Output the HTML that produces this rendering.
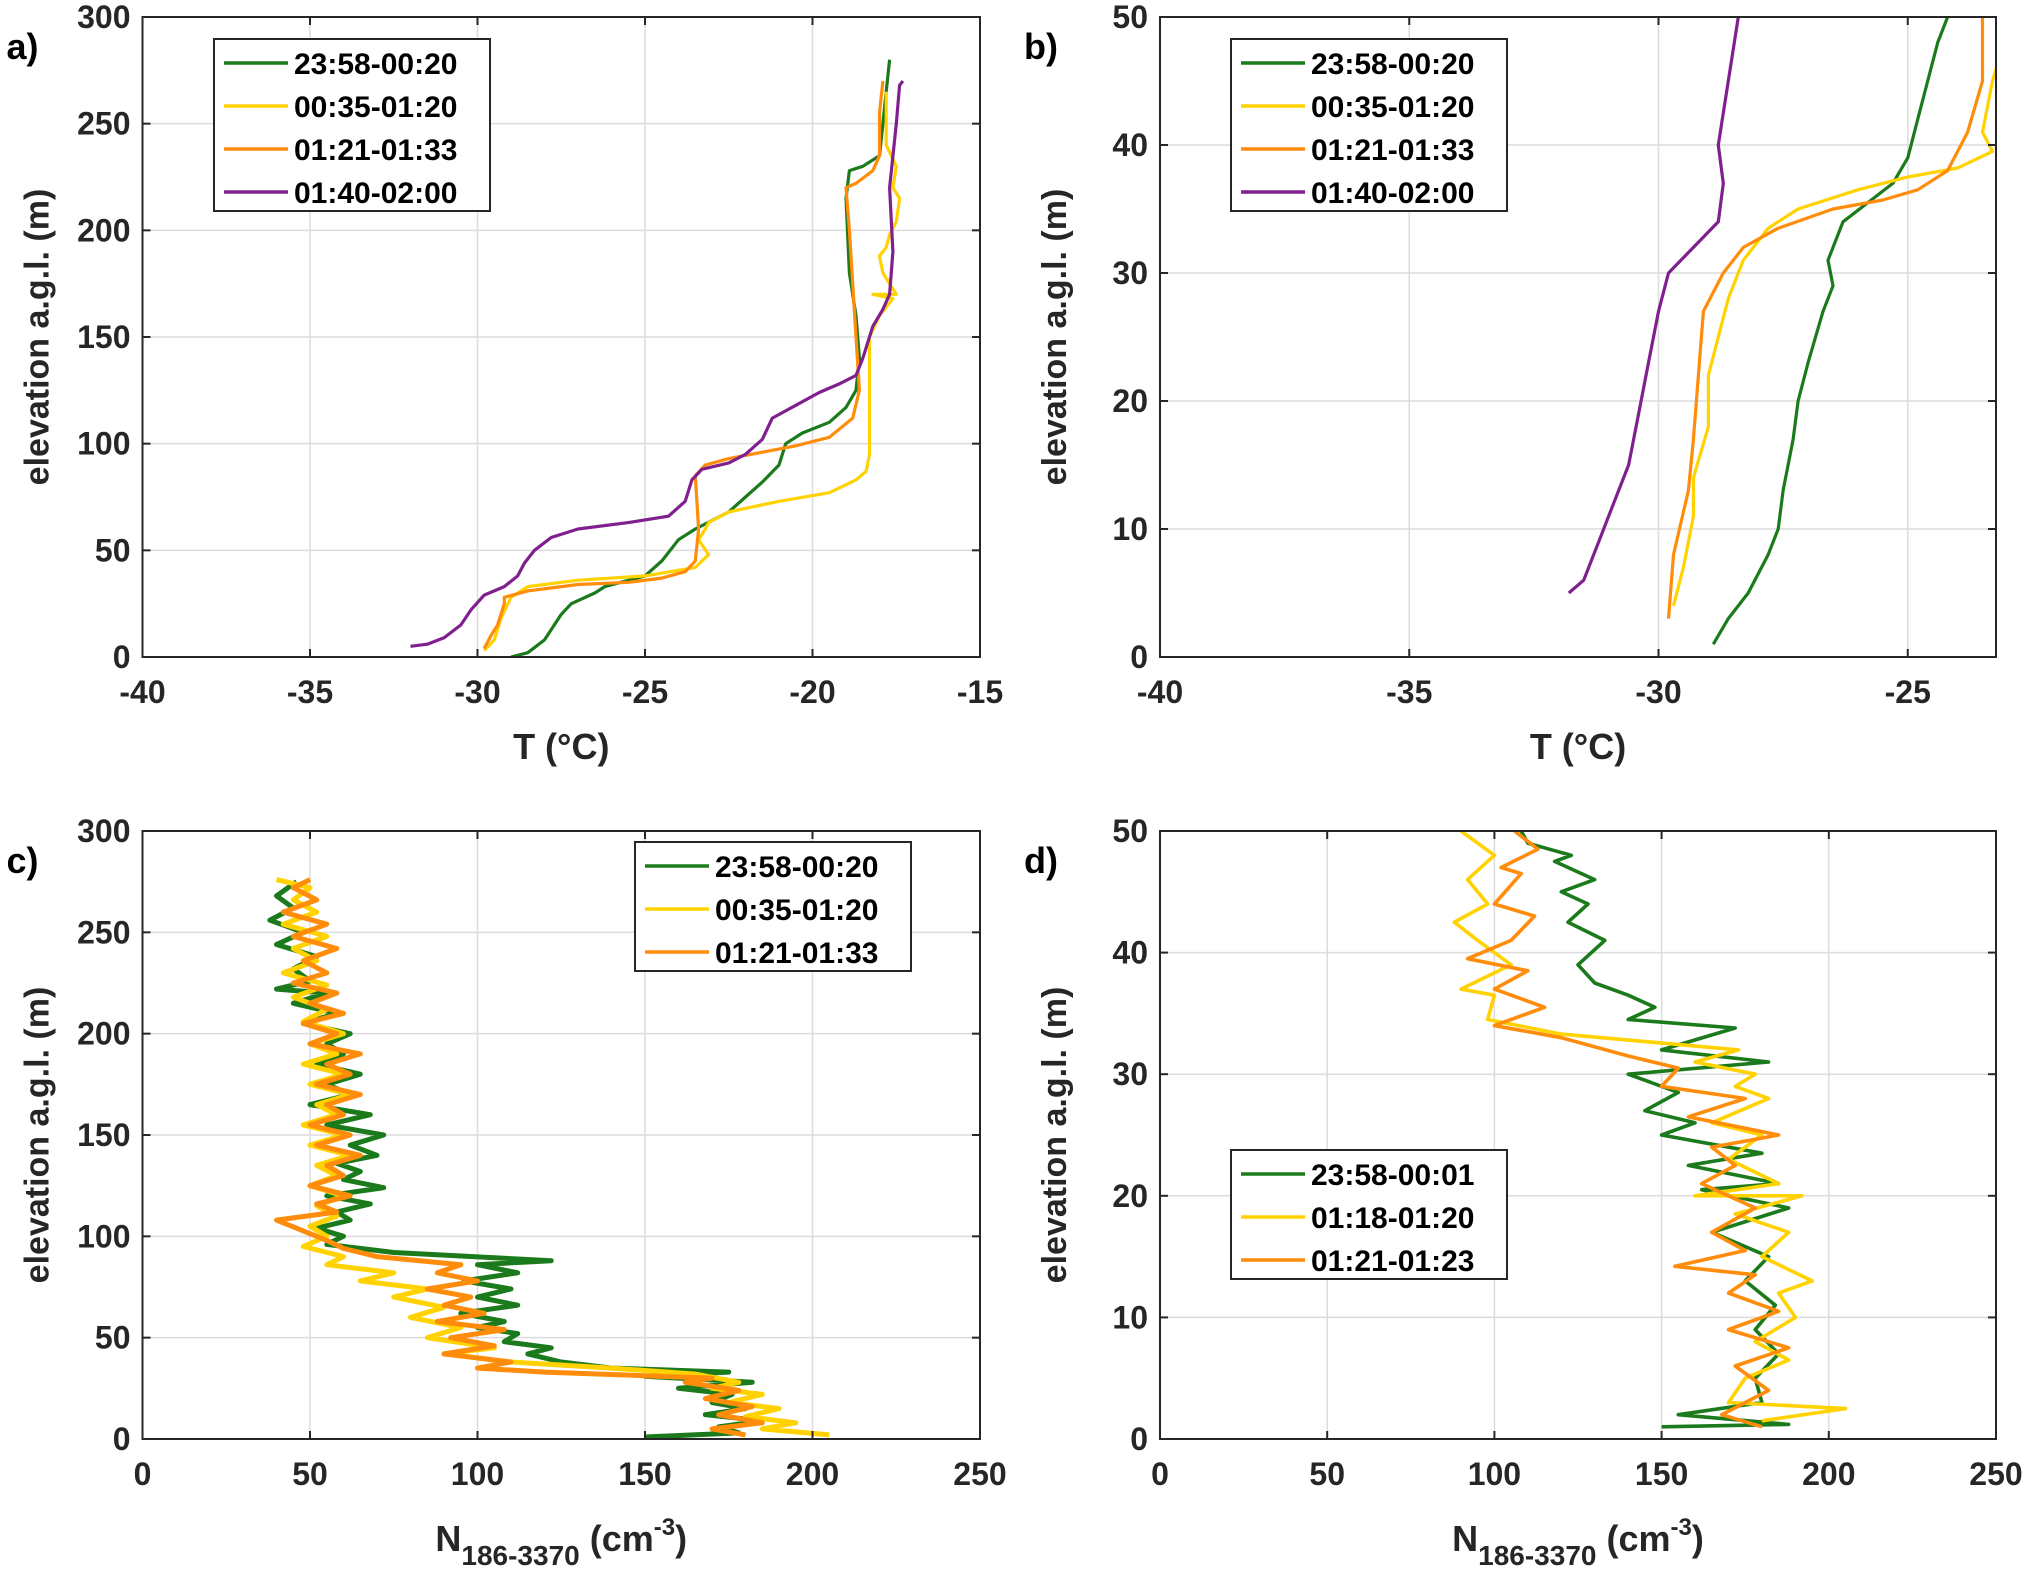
<!DOCTYPE html>
<html><head><meta charset="utf-8"><style>
html,body{margin:0;padding:0;background:#fff;}
svg{display:block;font-family:"Liberation Sans",Arial,sans-serif;font-weight:bold;}
</style></head><body>
<svg id="fig" width="2032" height="1581" viewBox="0 0 2032 1581" xmlns="http://www.w3.org/2000/svg"></svg>
<script>
// ---- data ----
const aGreen=[[-29,0],[-28.5,2],[-28,8],[-27.5,20],[-27.2,25],[-26.5,30],[-26.2,33],[-25,38],[-24.5,45],[-24,55],[-23.5,60],[-23,64],[-22.5,68],[-22,75],[-21.5,82],[-21,90],[-20.8,100],[-20.3,105],[-19.5,110],[-19,117],[-18.7,125],[-18.6,140],[-18.7,160],[-18.9,180],[-19,215],[-18.9,228],[-18.5,230],[-18,235],[-17.9,250],[-17.8,265],[-17.7,280]];
const aYellow=[[-29.8,3],[-29.5,8],[-29.3,18],[-29,28],[-28.5,33],[-27,36],[-25,38],[-23.5,42],[-23.1,48],[-23.4,55],[-23.2,60],[-23.1,63],[-22.5,68],[-21,73],[-19.5,77],[-18.7,83],[-18.4,87],[-18.3,95],[-18.3,150],[-18,160],[-17.6,168],[-18.2,170],[-17.5,170],[-17.9,180],[-18,188],[-17.8,192],[-17.7,198],[-17.5,204],[-17.4,215],[-17.6,220],[-17.5,230],[-17.8,240],[-17.8,265]];
const aOrange=[[-29.8,4],[-29.6,10],[-29.4,15],[-29.2,25],[-29.2,28],[-28.5,31],[-27,34],[-25.5,35],[-24.5,37],[-23.8,40],[-23.5,45],[-23.4,60],[-23.5,85],[-23.2,90],[-22.5,93],[-21.5,96],[-20.5,99],[-19.5,103],[-18.8,112],[-18.6,125],[-18.7,150],[-18.8,175],[-18.9,200],[-19,220],[-18.7,222],[-18.2,228],[-18,235],[-18,255],[-17.9,270]];
const aPurple=[[-32,5],[-31.5,6],[-31,9],[-30.5,15],[-30.2,22],[-29.8,29],[-29.2,33],[-28.8,38],[-28.6,44],[-28.3,50],[-27.8,56],[-27,60],[-25.5,63],[-24.3,66],[-23.8,73],[-23.6,83],[-23.3,88],[-22.5,91],[-22,95],[-21.5,102],[-21.2,112],[-20.5,118],[-19.8,124],[-19.2,128],[-18.7,132],[-18.5,140],[-18.2,155],[-17.9,163],[-17.7,170],[-17.6,190],[-17.7,220],[-17.5,250],[-17.4,268],[-17.3,270]];
const bGreen=[[-28.9,1],[-28.6,3],[-28.2,5],[-27.8,8],[-27.6,10],[-27.5,13],[-27.3,17],[-27.2,20],[-27,23],[-26.7,27],[-26.5,29],[-26.6,31],[-26.3,34],[-25.8,35.5],[-25.3,37],[-25,39],[-24.8,42],[-24.6,45],[-24.4,48],[-24.2,50]];
const bYellow=[[-29.7,4],[-29.5,7],[-29.3,11],[-29.3,14],[-29,18],[-29,22],[-28.8,25],[-28.6,28],[-28.3,31],[-27.8,33.5],[-27.2,35],[-26,36.5],[-25,37.5],[-24,38.2],[-23.3,39.5],[-23.5,41],[-23.3,45],[-23,49],[-23,50]];
const bOrange=[[-29.8,3],[-29.7,8],[-29.4,13],[-29.3,17],[-29.2,22],[-29.1,27],[-28.7,30],[-28.3,32],[-27.6,33.5],[-26.5,35],[-25.5,35.7],[-24.8,36.5],[-24.2,38],[-23.8,41],[-23.5,45],[-23.5,50]];
const bPurple=[[-31.8,5],[-31.5,6],[-31.2,9],[-30.9,12],[-30.6,15],[-30.4,19],[-30.2,23],[-30,27],[-29.8,30],[-29.3,32],[-28.8,34],[-28.7,37],[-28.8,40],[-28.6,45],[-28.4,50]];
const cGreen=[[150,1],[178,3],[172,6],[185,9],[168,12],[180,15],[170,18],[176,22],[160,25],[182,28],[150,31],[175,33],[140,35],[125,38],[115,42],[122,45],[108,48],[112,52],[100,55],[108,58],[95,62],[112,66],[100,70],[110,74],[96,78],[112,82],[100,86],[122,88],[75,92],[55,96],[60,100],[52,104],[62,108],[58,112],[68,116],[55,120],[72,124],[60,128],[65,132],[58,136],[70,140],[62,145],[72,150],[55,155],[68,160],[50,165],[62,170],[55,175],[65,180],[52,185],[60,190],[55,195],[62,200],[48,205],[58,210],[45,215],[55,220],[40,222],[50,226],[45,232],[52,238],[40,244],[48,250],[38,256],[45,262],[40,268],[46,275]];
const cYellow=[[205,2],[185,5],[195,8],[180,11],[190,15],[175,18],[185,22],[170,25],[178,28],[165,32],[140,35],[110,38],[90,42],[105,45],[85,50],[95,55],[80,60],[90,65],[75,70],[85,74],[65,78],[75,82],[55,86],[60,90],[48,95],[55,100],[50,105],[58,110],[52,115],[60,120],[50,125],[58,130],[52,135],[62,140],[50,145],[60,150],[48,155],[58,160],[52,165],[62,170],[50,175],[60,180],[48,185],[58,190],[50,195],[60,200],[48,206],[55,212],[45,218],[55,224],[42,230],[52,236],[45,242],[55,248],[42,254],[52,260],[45,266],[50,272],[40,276]];
const cOrange=[[180,2],[170,5],[185,8],[172,12],[182,16],[168,20],[178,24],[162,28],[170,30],[120,33],[100,35],[110,38],[90,42],[105,46],[92,50],[108,54],[88,58],[102,62],[90,66],[98,70],[85,74],[100,78],[88,82],[95,86],[70,90],[60,94],[55,98],[40,108],[58,112],[52,116],[62,120],[50,125],[60,130],[55,135],[65,140],[52,145],[62,150],[50,155],[60,160],[55,165],[65,170],[52,175],[62,180],[55,185],[65,190],[50,195],[58,200],[48,205],[60,210],[50,215],[58,220],[45,225],[55,230],[48,236],[58,242],[45,248],[55,254],[42,260],[52,266],[45,272],[50,276]];
const dGreen=[[150,1],[188,1.2],[155,2],[180,3],[178,5],[185,7],[178,9],[184,11],[175,13],[182,15],[165,17],[188,19],[162,20.5],[185,21],[158,22.5],[180,23.5],[150,25],[160,26],[145,27],[155,28.5],[140,30],[182,31],[150,32],[172,33.8],[140,34.5],[148,35.5],[140,36.5],[130,37.5],[125,39],[133,41],[122,42.5],[128,44],[120,45],[130,46],[118,47.5],[123,48],[110,49],[108,50]];
const dYellow=[[180,1.5],[205,2.5],[170,3],[175,5],[188,6.5],[178,8],[190,10],[185,12],[195,13],[180,15],[188,17],[172,18.5],[192,20],[160,20],[185,21],[170,23],[180,25],[165,26],[182,28],[172,29],[178,30],[160,31],[173,32],[120,33.3],[98,34.5],[100,36.5],[90,37],[105,39],[95,41],[88,42.5],[98,44],[92,46],[100,48],[90,50]];
const dOrange=[[180,1],[168,2],[182,4],[172,6],[188,7.5],[170,9],[185,10.5],[170,12],[178,13.5],[154,14.2],[175,15.5],[165,17],[178,19],[162,21],[172,22.5],[165,24],[185,25],[158,26.5],[175,28],[150,29],[155,30.5],[140,31.5],[120,33],[100,34],[115,35.5],[100,37],[110,38.5],[92,39.5],[105,41],[112,43],[100,44],[108,46.5],[102,47],[113,48.5],[106,50]];
const tickT=[-40,-35,-30,-25,-20,-15];
const tickTb=[-40,-35,-30,-25];
const tickN=[0,50,100,150,200,250];
const tickZ300=[0,50,100,150,200,250,300];
const tickZ50=[0,10,20,30,40,50];
const legA=["23:58-00:20","00:35-01:20","01:21-01:33","01:40-02:00"];
const legC=["23:58-00:20","00:35-01:20","01:21-01:33"];
const legD=["23:58-00:01","01:18-01:20","01:21-01:23"];

const G="#1b7a1b",Y="#ffd200",O="#ff8c0a",P="#80208f";
const NS="http://www.w3.org/2000/svg";
const svg=document.getElementById('fig');
function el(tag,attrs,parent,text){const e=document.createElementNS(NS,tag);for(const k in attrs)e.setAttribute(k,attrs[k]);if(text!==undefined)e.textContent=text;(parent||svg).appendChild(e);return e;}

function panel(o){
  const g=el('g',{});
  
  
  const sx=v=>o.L+(v-o.x0)/(o.x1-o.x0)*(o.R-o.L);
  const sy=v=>o.B-(v-o.y0)/(o.y1-o.y0)*(o.B-o.T);
  o.xt.forEach(t=>{const x=sx(t);if(x>o.L+1&&x<o.R-1){const l=el('line',{x1:x,x2:x,y1:o.T,y2:o.B,stroke:'#dcdcdc','stroke-width':1.5},g);}});
  o.yt.forEach(t=>{const y=sy(t);if(y>o.T+1&&y<o.B-1){const l=el('line',{x1:o.L,x2:o.R,y1:y,y2:y,stroke:'#dcdcdc','stroke-width':1.5},g);}});
  const clip='clip-'+o.name;
  const cp=el('clipPath',{id:clip},g);el('rect',{x:o.L,y:o.T,width:o.R-o.L,height:o.B-o.T},cp);
  o.series.forEach(s=>{
    const p=el('polyline',{points:s.d.map(q=>sx(q[0]).toFixed(1)+','+sy(q[1]).toFixed(1)).join(' '),fill:'none',stroke:s.c,'stroke-width':o.lw,'stroke-linejoin':'round','clip-path':'url(#'+clip+')'},g);
    
    
  });
  const bx=el('rect',{x:o.L,y:o.T,width:o.R-o.L,height:o.B-o.T,fill:'none',stroke:'#262626','stroke-width':2},g);
  
  
  o.xt.forEach(t=>{const x=sx(t);el('line',{x1:x,x2:x,y1:o.B,y2:o.B-8,stroke:'#262626','stroke-width':2},g);el('line',{x1:x,x2:x,y1:o.T,y2:o.T+8,stroke:'#262626','stroke-width':2},g);
    const tx=el('text',{x:x,y:o.B+46,'text-anchor':'middle','font-size':32,fill:'#262626'},g,String(t));});
  o.yt.forEach(t=>{const y=sy(t);el('line',{x1:o.L,x2:o.L+8,y1:y,y2:y,stroke:'#262626','stroke-width':2},g);el('line',{x1:o.R,x2:o.R-8,y1:y,y2:y,stroke:'#262626','stroke-width':2},g);
    const ty=el('text',{x:o.L-12,y:y+11,'text-anchor':'end','font-size':32,fill:'#262626'},g,String(t));});
  const yl=el('text',{x:0,y:0,transform:'translate('+(o.L-94)+','+((o.T+o.B)/2)+') rotate(-90)','text-anchor':'middle','font-size':34,fill:'#262626'},g,'elevation a.g.l. (m)');
  
  const xl=el('text',{x:(o.L+o.R)/2,y:o.B+(o.xlab==='T'?102:112),'text-anchor':'middle','font-size':36,fill:'#262626'},g);
  
  if(o.xlab==='T'){xl.textContent='T (°C)';}
  else{el('tspan',{},xl,'N');el('tspan',{dy:14,'font-size':28},xl,'186-3370');el('tspan',{dy:-14},xl,' (cm');el('tspan',{dy:-16,'font-size':24},xl,'-3');el('tspan',{dy:16},xl,')');}
  const pl=el('text',{x:o.L-136,y:o.T+42,'font-size':36,fill:'#000'},g,o.letter);
  
  const lg=el('g',{},g);
  const n=o.leg.length,lh=43;
  el('rect',{x:o.lx,y:o.ly,width:276,height:n*lh,fill:'#fff',stroke:'#262626','stroke-width':2},lg);
  o.leg.forEach((t,i)=>{const y=o.ly+24+i*lh;
    el('line',{x1:o.lx+10,x2:o.lx+74,y1:y,y2:y,stroke:o.series[i].c,'stroke-width':3.5},lg);
    const tt=el('text',{x:o.lx+80,y:y+11,'font-size':30,fill:'#000'},lg,t);});
}

panel({name:'panel-a',letter:'a)',L:142.5,R:980,T:17,B:657,x0:-40,x1:-15,y0:0,y1:300,xt:tickT,yt:tickZ300,lw:3.2,xlab:'T',
  series:[{d:aGreen,c:G,n:'series-green'},{d:aYellow,c:Y,n:'series-yellow'},{d:aOrange,c:O,n:'series-orange'},{d:aPurple,c:P,n:'series-purple'}],leg:legA,lx:214,ly:39});
panel({name:'panel-b',letter:'b)',L:1160,R:1996,T:17,B:657,x0:-40,x1:-23.23,y0:0,y1:50,xt:tickTb,yt:tickZ50,lw:3.2,xlab:'T',
  series:[{d:bGreen,c:G,n:'series-green'},{d:bYellow,c:Y,n:'series-yellow'},{d:bOrange,c:O,n:'series-orange'},{d:bPurple,c:P,n:'series-purple'}],leg:legA,lx:1231,ly:39});
panel({name:'panel-c',letter:'c)',L:142.5,R:980,T:831,B:1439,x0:0,x1:250,y0:0,y1:300,xt:tickN,yt:tickZ300,lw:5,xlab:'N',
  series:[{d:cGreen,c:G,n:'series-green'},{d:cYellow,c:Y,n:'series-yellow'},{d:cOrange,c:O,n:'series-orange'}],leg:legC,lx:635,ly:842});
panel({name:'panel-d',letter:'d)',L:1160,R:1996,T:831,B:1439,x0:0,x1:250,y0:0,y1:50,xt:tickN,yt:tickZ50,lw:3.6,xlab:'N',
  series:[{d:dGreen,c:G,n:'series-green'},{d:dYellow,c:Y,n:'series-yellow'},{d:dOrange,c:O,n:'series-orange'}],leg:legD,lx:1231,ly:1150});
</script>
</body></html>
